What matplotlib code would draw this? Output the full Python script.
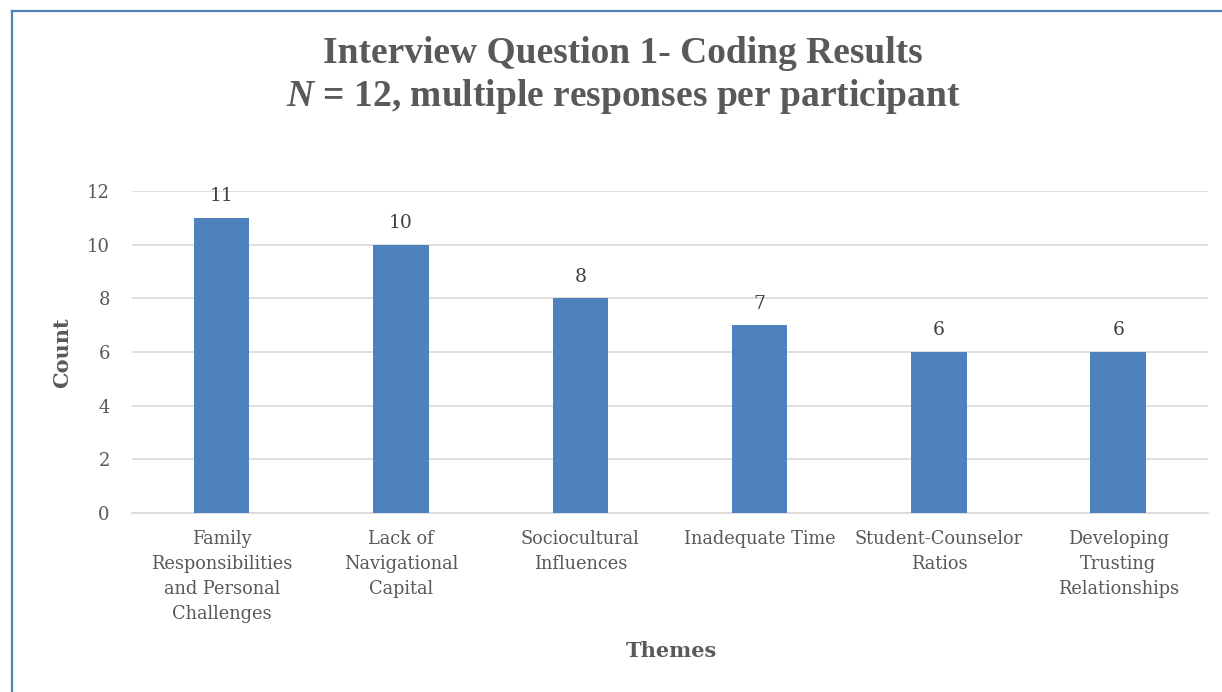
import matplotlib.pyplot as plt
from matplotlib.lines import Line2D

themes = ["Family\nResponsibilities\nand Personal\nChallenges",
          "Lack of\nNavigational\nCapital",
          "Sociocultural\nInfluences",
          "Inadequate Time",
          "Student-Counselor\nRatios",
          "Developing\nTrusting\nRelationships"]
counts = [11, 10, 8, 7, 6, 6]
yticks = [0, 2, 4, 6, 8, 10, 12]

barColor = "#4F81BD"
textColor = "#595959"
titleFont = ["Liberation Serif", "DejaVu Serif"]
bodyFont = ["DejaVu Serif"]

# italic bold N in the second title line
plt.rcParams["mathtext.fontset"] = "custom"
plt.rcParams["mathtext.it"] = "Liberation Serif:italic:bold"
plt.rcParams["mathtext.rm"] = "Liberation Serif:bold"

fig = plt.figure(figsize=(12.22, 6.92), dpi=100)
ax = fig.add_axes([0.108, 0.2587, 0.8805, 0.4653])

x = list(range(len(themes)))
bars = ax.bar(x, counts, width=0.31, color=barColor, zorder=3)
for b, c in zip(bars, counts):
	ax.annotate(str(c), (b.get_x() + b.get_width() / 2, c), xytext=(0, 9),
		textcoords="offset points", ha="center", va="bottom",
		fontsize=13.5, color="#404040", family=bodyFont)

ax.set_xlim(-0.5, len(themes) - 0.5)
ax.set_ylim(0, 12)
ax.set_yticks(yticks)
ax.set_xticks(x)
ax.set_xticklabels(themes, fontsize=12.8, color=textColor, family=bodyFont, linespacing=1.5)
ax.set_yticklabels([str(t) for t in yticks], fontsize=13, color=textColor, family=bodyFont)
ax.tick_params(axis="both", length=0)
ax.tick_params(axis="x", pad=12)
ax.tick_params(axis="y", pad=16)
ax.grid(axis="y", color="#D9D9D9", linewidth=1.2, zorder=0)
for s in ["top", "right", "left"]:
	ax.spines[s].set_visible(False)
ax.spines["bottom"].set_color("#D9D9D9")
ax.spines["bottom"].set_linewidth(1.2)

fig.text(0.051, 0.49, "Count", ha="center", va="center", rotation=90, fontsize=15,
	fontweight="bold", color=textColor, family=bodyFont)
fig.text(0.549, 0.059, "Themes", ha="center", va="center", fontsize=15,
	fontweight="bold", color=textColor, family=bodyFont)

fig.text(0.510, 0.923, "Interview Question 1- Coding Results", ha="center", va="center",
	fontsize=27, fontweight="bold", color=textColor, family=titleFont)
fig.text(0.510, 0.860, r"$N$ = 12, multiple responses per participant", ha="center",
	va="center", fontsize=27, fontweight="bold", color=textColor, family=titleFont)

# chart frame, only left and top edges fall inside the image
fig.add_artist(Line2D([0.0095, 0.0095], [0, 0.984], color=barColor, linewidth=1.6))
fig.add_artist(Line2D([0.0095, 1.0], [0.984, 0.984], color=barColor, linewidth=1.6))

plt.savefig("out.png", dpi=100)
